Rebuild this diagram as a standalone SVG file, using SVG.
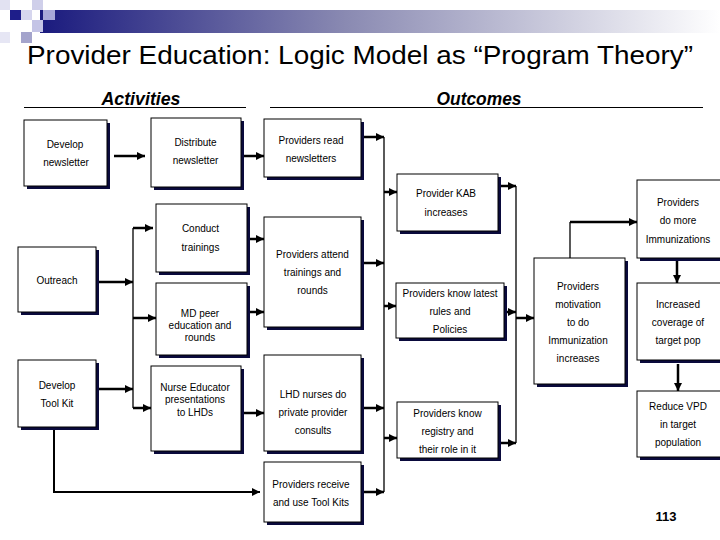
<svg xmlns="http://www.w3.org/2000/svg" width="720" height="540" viewBox="0 0 720 540">
<defs>
<linearGradient id="bar" x1="0" y1="0" x2="1" y2="0">
<stop offset="0" stop-color="#1a1a7e"/>
<stop offset="0.45" stop-color="#8a8ab2"/>
<stop offset="1" stop-color="#ffffff"/>
</linearGradient>
<marker id="ah" markerUnits="userSpaceOnUse" markerWidth="9" markerHeight="9" refX="8" refY="4" orient="auto">
<path d="M0,0 L8,4 L0,8 Z" fill="#000"/>
</marker>
</defs>
<style>
.sh{fill:#0a0a3c}
.bx{fill:#fff;stroke:#000;stroke-width:1}
.t{font-family:"Liberation Sans",Arial,sans-serif;font-size:10px;fill:#000;text-anchor:middle}
.a{fill:none;stroke:#000;stroke-width:2.5;marker-end:url(#ah)}
.l{fill:none;stroke:#000;stroke-width:1.3}
.h{font-family:"Liberation Sans",Arial,sans-serif;font-size:18px;font-weight:bold;font-style:italic;fill:#000;text-anchor:middle}
</style>
<rect width="720" height="540" fill="#fff"/>
<g id="header">
<rect x="40" y="10" width="680" height="23" fill="url(#bar)"/>
<rect x="0" y="0" width="10" height="10" fill="#e2e2f2"/>
<rect x="32" y="0" width="11" height="10" fill="#cfcfea"/>
<rect x="10" y="10" width="11" height="10" fill="#1e1e8a"/>
<rect x="21" y="10" width="11" height="10" fill="#d6d6ee"/>
<rect x="43" y="10" width="12" height="10" fill="#a8a8d8"/>
<rect x="32" y="20" width="11" height="12" fill="#c4c4e6"/>
<rect x="21" y="32" width="11" height="11" fill="#a4a4cc"/>
<rect x="0" y="32" width="10" height="11" fill="#e6e6f4"/>
<text x="360" y="64" font-family="Liberation Sans,Arial,sans-serif" font-size="26" text-anchor="middle" textLength="666" lengthAdjust="spacingAndGlyphs">Provider Education: Logic Model as “Program Theory”</text>
<text class="h" x="141" y="105" textLength="79" lengthAdjust="spacingAndGlyphs">Activities</text>
<text class="h" x="479" y="105" textLength="85" lengthAdjust="spacingAndGlyphs">Outcomes</text>
<line x1="24" y1="107.5" x2="246" y2="107.5" stroke="#000" stroke-width="1"/>
<line x1="270" y1="107.5" x2="703" y2="107.5" stroke="#000" stroke-width="1"/>
</g>
<g id="connectors">
<path class="a" d="M114,156 L145,156"/>
<path class="a" d="M244,156 L264,156"/>
<path class="a" d="M99,282 L133,282"/>
<path class="a" d="M99,389 L133,389"/>
<path class="l" d="M133,228 V408"/>
<path class="a" d="M133,228 L153,228"/>
<path class="a" d="M133,318 L156,318"/>
<path class="a" d="M133,408 L151,408"/>
<path class="a" d="M250,239 L264,239"/>
<path class="a" d="M250,312 L264,312"/>
<path class="a" d="M244,413 L264,413"/>
<path class="a" d="M54,430 V492 H260" style="stroke-width:2"/>
<path class="l" d="M384,137 V492"/>
<path class="a" d="M364,137 L384,137"/>
<path class="a" d="M364,263 L384,263"/>
<path class="a" d="M364,408 L384,408"/>
<path class="a" d="M364,492 L384,492"/>
<path class="a" d="M384,192 L397,192"/>
<path class="a" d="M384,306 L396,306"/>
<path class="a" d="M384,438 L397,438"/>
<path class="l" d="M516,186 V443"/>
<path class="a" d="M501,186 L516,186"/>
<path class="a" d="M507,312 L516,312"/>
<path class="a" d="M501,443 L516,443"/>
<path class="a" d="M516,318 L534,318"/>
<path class="l" d="M570,258 V222"/>
<path class="a" d="M570,222 L637,222"/>
<path class="a" d="M677,261 L677,283"/>
<path class="a" d="M678,364 L678,391"/>
</g>
<g id="develop-newsletter">
<rect class="sh" x="27" y="123" width="83" height="66"/><rect class="bx" x="24" y="120" width="83" height="66"/>
<text class="t" x="65" y="148">Develop</text><text class="t" x="66" y="166">newsletter</text>
</g>
<g id="distribute-newsletter">
<rect class="sh" x="154" y="121" width="90" height="69"/><rect class="bx" x="151" y="118" width="90" height="69"/>
<text class="t" x="195.5" y="145.5">Distribute</text><text class="t" x="195.5" y="163.5">newsletter</text>
</g>
<g id="providers-read">
<rect class="sh" x="267" y="122" width="97" height="58"/><rect class="bx" x="264" y="119" width="97" height="58"/>
<text class="t" x="311" y="143.5">Providers read</text><text class="t" x="311" y="161.5">newsletters</text>
</g>
<g id="conduct-trainings">
<rect class="sh" x="159" y="207" width="91" height="68"/><rect class="bx" x="156" y="204" width="91" height="68"/>
<text class="t" x="200.5" y="231.5">Conduct</text><text class="t" x="200.5" y="250.5">trainings</text>
</g>
<g id="providers-attend">
<rect class="sh" x="267" y="220" width="97" height="110"/><rect class="bx" x="264" y="217" width="97" height="110"/>
<text class="t" x="312.5" y="257.5">Providers attend</text><text class="t" x="312.5" y="275.5">trainings and</text><text class="t" x="312.5" y="293.5">rounds</text>
</g>
<g id="outreach">
<rect class="sh" x="21" y="250" width="78" height="65"/><rect class="bx" x="18" y="247" width="78" height="65"/>
<text class="t" x="57" y="283.5">Outreach</text>
</g>
<g id="md-peer">
<rect class="sh" x="159" y="286" width="91" height="72"/><rect class="bx" x="156" y="283" width="91" height="72"/>
<text class="t" x="200" y="316.5">MD peer</text><text class="t" x="200" y="328.5">education and</text><text class="t" x="200" y="340.5">rounds</text>
</g>
<g id="develop-toolkit">
<rect class="sh" x="21" y="363" width="78" height="67"/><rect class="bx" x="18" y="360" width="78" height="67"/>
<text class="t" x="57" y="388.5">Develop</text><text class="t" x="57" y="406.5">Tool Kit</text>
</g>
<g id="nurse-educator">
<rect class="sh" x="154" y="369" width="90" height="85"/><rect class="bx" x="151" y="366" width="90" height="85"/>
<text class="t" x="195" y="390.5">Nurse Educator</text><text class="t" x="195" y="402.5">presentations</text><text class="t" x="195" y="415.5">to LHDs</text>
</g>
<g id="lhd-nurses">
<rect class="sh" x="267" y="358" width="97" height="96"/><rect class="bx" x="264" y="355" width="97" height="96"/>
<text class="t" x="313" y="397.5">LHD nurses do</text><text class="t" x="313" y="415.5">private provider</text><text class="t" x="313" y="433.5">consults</text>
</g>
<g id="providers-receive">
<rect class="sh" x="267" y="465" width="97" height="60"/><rect class="bx" x="264" y="462" width="97" height="60"/>
<text class="t" x="311" y="487.5">Providers receive</text><text class="t" x="311" y="505.5">and use Tool Kits</text>
</g>
<g id="provider-kab">
<rect class="sh" x="400" y="177" width="101" height="57"/><rect class="bx" x="397" y="174" width="101" height="57"/>
<text class="t" x="446" y="196.5">Provider KAB</text><text class="t" x="446" y="215.5">increases</text>
</g>
<g id="know-latest">
<rect class="sh" x="399" y="286" width="108" height="55"/><rect class="bx" x="396" y="283" width="108" height="55"/>
<text class="t" x="450" y="296.5">Providers know latest</text><text class="t" x="450" y="314.5">rules and</text><text class="t" x="450" y="332.5">Policies</text>
</g>
<g id="know-registry">
<rect class="sh" x="400" y="405" width="101" height="56"/><rect class="bx" x="397" y="402" width="101" height="56"/>
<text class="t" x="447.5" y="416.5">Providers know</text><text class="t" x="447.5" y="434.5">registry and</text><text class="t" x="447.5" y="452.5">their role in it</text>
</g>
<g id="motivation">
<rect class="sh" x="537" y="261" width="91" height="126"/><rect class="bx" x="534" y="258" width="91" height="126"/>
<text class="t" x="578" y="289.5">Providers</text><text class="t" x="578" y="307.5">motivation</text><text class="t" x="578" y="325.5">to do</text><text class="t" x="578" y="343.5">Immunization</text><text class="t" x="578" y="361.5">increases</text>
</g>
<g id="do-more">
<rect class="sh" x="640" y="183" width="84" height="78"/><rect class="bx" x="637" y="180" width="84" height="78"/>
<text class="t" x="678" y="205.5">Providers</text><text class="t" x="678" y="223.5">do more</text><text class="t" x="678" y="242.5">Immunizations</text>
</g>
<g id="increased-coverage">
<rect class="sh" x="640" y="286" width="84" height="77"/><rect class="bx" x="637" y="283" width="84" height="77"/>
<text class="t" x="678" y="307.5">Increased</text><text class="t" x="678" y="325.5">coverage of</text><text class="t" x="678" y="343.5">target pop</text>
</g>
<g id="reduce-vpd">
<rect class="sh" x="640" y="394" width="84" height="66"/><rect class="bx" x="637" y="391" width="84" height="66"/>
<text class="t" x="678" y="409.5">Reduce VPD</text><text class="t" x="678" y="427.5">in target</text><text class="t" x="678" y="445.5">population</text>
</g>
<text x="666" y="521" font-family="Liberation Sans,Arial,sans-serif" font-size="13" font-weight="bold" text-anchor="middle">113</text>
</svg>
